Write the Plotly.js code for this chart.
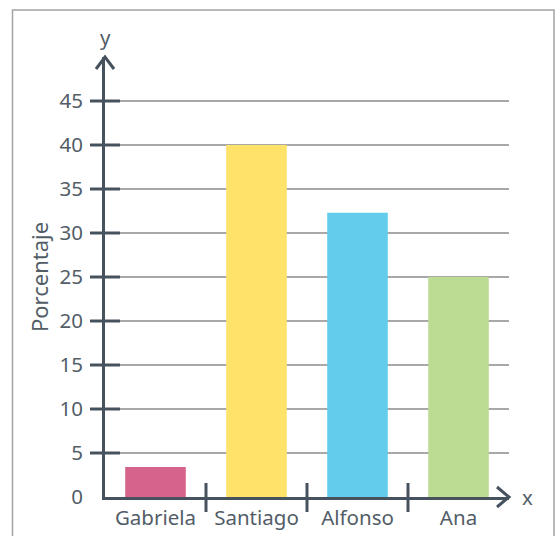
<!DOCTYPE html>
<html>
<head>
<meta charset="utf-8">
<script src="https://cdn.plot.ly/plotly-3.0.1.min.js"></script>
<style>html,body{margin:0;padding:0;background:#fff;}#chart{width:555px;height:536px;}</style>
</head>
<body>
<div id="chart"></div>
<script>
// Data
const categories = ["Gabriela", "Santiago", "Alfonso", "Ana"];
const percentages = [3.4, 40, 32.3, 25];
const barColors = ["#D6638C", "#FEE26A", "#63CCEC", "#BCDB93"];
const yTickValues = [0, 5, 10, 15, 20, 25, 30, 35, 40, 45];
const yAxisTitle = "Porcentaje";

const axisColor = "#46535E";
const textColor = "#525D67";
const fontFam = "Noto Sans, Open Sans, sans-serif";

const shapes = [];
// tick marks crossing the y axis (not at 0)
yTickValues.filter(v => v !== 0).forEach(v => {
  shapes.push({type: "line", xref: "paper", xsizemode: "pixel", xanchor: 0, x0: -15, x1: 15,
    yref: "y", y0: v, y1: v, line: {color: axisColor, width: 3}, layer: "above"});
});
// category dividers on the x axis
for (let i = 0; i < categories.length - 1; i++) {
  shapes.push({type: "line", xref: "x", x0: i + 0.5, x1: i + 0.5,
    yref: "paper", ysizemode: "pixel", yanchor: 0, y0: -15, y1: 14,
    line: {color: axisColor, width: 3}, layer: "above"});
}
// arrowheads
shapes.push({type: "path", xref: "paper", xsizemode: "pixel", xanchor: 0,
  yref: "paper", ysizemode: "pixel", yanchor: 1, path: "M-9,-12L0,0L9,-12",
  line: {color: axisColor, width: 3}, layer: "above"});
shapes.push({type: "path", xref: "paper", xsizemode: "pixel", xanchor: 1,
  yref: "paper", ysizemode: "pixel", yanchor: 0, path: "M-12,10L0,0L-12,-10",
  line: {color: axisColor, width: 3}, layer: "above"});
// outer frame
shapes.push({type: "rect", xref: "paper", xsizemode: "pixel", xanchor: 0, x0: -92.5, x1: 449,
  yref: "paper", ysizemode: "pixel", yanchor: 1, y0: 47, y1: -520,
  line: {color: "#A3A3A3", width: 1.5}, fillcolor: "rgba(0,0,0,0)", layer: "below"});

const trace = {
  type: "bar",
  x: categories,
  y: percentages,
  width: 0.6,
  marker: {color: barColors, line: {width: 0}},
  hoverinfo: "skip"
};

const layout = {
  width: 555,
  height: 536,
  margin: {l: 105, r: 46, t: 57, b: 39, pad: 0},
  paper_bgcolor: "#fff",
  plot_bgcolor: "#fff",
  showlegend: false,
  font: {family: fontFam, color: textColor, size: 20.5},
  xaxis: {
    type: "category",
    range: [-0.5, 3.5],
    showline: true, linecolor: axisColor, linewidth: 3,
    ticks: "", showgrid: false, zeroline: false,
    tickfont: {family: fontFam, size: 20.5, color: textColor},
    fixedrange: true
  },
  yaxis: {
    range: [0, 50],
    tickvals: yTickValues,
    ticktext: yTickValues.map(String),
    ticks: "outside", ticklen: 15, tickwidth: 3, tickcolor: "rgba(0,0,0,0)",
    showline: true, linecolor: axisColor, linewidth: 3,
    showgrid: true, gridcolor: "#A8A8A8", gridwidth: 1.5,
    zeroline: false,
    tickfont: {family: fontFam, size: 20.5, color: textColor},
    title: {text: yAxisTitle, font: {family: fontFam, size: 22, color: textColor}, standoff: 5},
    fixedrange: true
  },
  annotations: [
    {xref: "paper", yref: "paper", x: 0, y: 1, yshift: 20, xanchor: "center", yanchor: "middle",
     text: "y", showarrow: false, font: {family: fontFam, size: 20.5, color: textColor}},
    {xref: "paper", yref: "paper", x: 1, y: 0, xshift: 18, xanchor: "center", yanchor: "middle",
     text: "x", showarrow: false, font: {family: fontFam, size: 20.5, color: textColor}}
  ],
  shapes: shapes
};

Plotly.newPlot("chart", [trace], layout, {displayModeBar: false, staticPlot: true});
</script>
</body>
</html>
